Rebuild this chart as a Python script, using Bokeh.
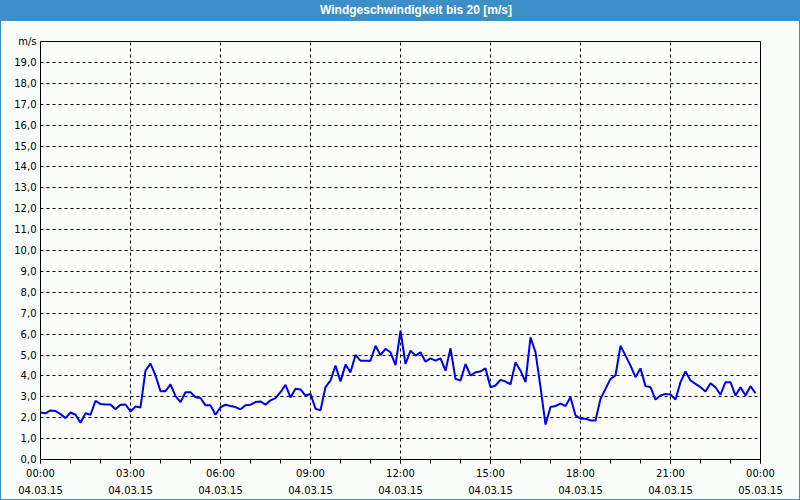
from bokeh.plotting import figure
from bokeh.models import Range1d, FixedTicker, Div
from bokeh.layouts import column
from bokeh.embed import file_html
from bokeh.resources import INLINE

title_text = "Windgeschwindigkeit bis 20 [m/s]"
x_tick_hours = [0, 3, 6, 9, 12, 15, 18, 21, 24]
x_tick_labels = ["00:00\n04.03.15", "03:00\n04.03.15", "06:00\n04.03.15", "09:00\n04.03.15",
                 "12:00\n04.03.15", "15:00\n04.03.15", "18:00\n04.03.15", "21:00\n04.03.15",
                 "00:00\n05.03.15"]
y_ticks = list(range(0, 21))
y_unit = "m/s"

wind_speed = [
    2.25, 2.21, 2.35, 2.32, 2.17, 1.98, 2.25, 2.14, 1.76, 2.21, 2.14, 2.81,
    2.65, 2.63, 2.63, 2.40, 2.62, 2.63, 2.30, 2.54, 2.49, 4.25, 4.59, 4.02,
    3.27, 3.27, 3.59, 3.03, 2.75, 3.22, 3.22, 2.98, 2.94, 2.59, 2.59, 2.14,
    2.50, 2.62, 2.56, 2.51, 2.40, 2.60, 2.62, 2.75, 2.78, 2.62, 2.83, 2.94,
    3.22, 3.57, 2.97, 3.38, 3.35, 3.06, 3.14, 2.43, 2.35, 3.46, 3.78, 4.49,
    3.73, 4.54, 4.17, 5.00, 4.73, 4.73, 4.73, 5.44, 5.00, 5.29, 5.13, 4.52,
    6.16, 4.57, 5.21, 4.97, 5.13, 4.68, 4.84, 4.73, 4.84, 4.25, 5.32, 3.86,
    3.78, 4.57, 4.02, 4.17, 4.21, 4.36, 3.46, 3.54, 3.81, 3.73, 3.60, 4.65,
    4.25, 3.70, 5.84, 5.13, 3.46, 1.67, 2.51, 2.56, 2.67, 2.56, 2.98, 2.11,
    1.95, 1.95, 1.87, 1.87, 2.90, 3.38, 3.86, 4.02, 5.44, 4.97, 4.49, 3.94,
    4.36, 3.51, 3.46, 2.87, 3.06, 3.14, 3.11, 2.87, 3.70, 4.21, 3.78, 3.62,
    3.46, 3.25, 3.65, 3.46, 3.10, 3.70, 3.70, 3.06, 3.46, 3.06, 3.51, 3.17,
]
# measurement every 10 minutes starting 04.03.15 00:00
hours = [i * 10 / 60 for i in range(len(wind_speed))]

BLUE = "#3c8fc6"
BG = "#fbfdfb"
FONT = "DejaVu Sans"

title_div = Div(
    text=f'<div style="width:798px;height:21px;line-height:20px;box-sizing:border-box;'
         f'padding-left:32px;text-align:center;background:{BLUE};color:white;'
         f'font-family:\'Liberation Sans\';font-weight:bold;font-size:12px;">{title_text}</div>',
    width=798, height=21, margin=(0, 0, 0, 0),
)

p = figure(width=798, height=478, output_backend="svg", toolbar_location=None,
           x_range=Range1d(0, 24), y_range=Range1d(0, 20),
           min_border_left=39, min_border_right=39, min_border_top=20, min_border_bottom=38,
           background_fill_color=BG, border_fill_color=BG, margin=(0, 0, 0, 0))
p.outline_line_color = "black"
p.outline_line_width = 1

p.line(hours, wind_speed, line_color="#0000e6", line_width=2)

xa = p.xaxis[0]
xa.ticker = FixedTicker(ticks=x_tick_hours, minor_ticks=list(range(0, 25)))
xa.major_label_overrides = {h: l for h, l in zip(x_tick_hours, x_tick_labels)}
xa.major_tick_in = 0
xa.major_tick_out = 4
xa.minor_tick_in = 0
xa.minor_tick_out = 4
xa.axis_line_color = "black"
xa.major_tick_line_color = "black"
xa.minor_tick_line_color = "black"
xa.major_label_text_font = FONT
xa.major_label_text_font_size = "10px"
xa.major_label_text_color = "black"
xa.major_label_text_line_height = 1.6
xa.major_label_standoff = 4

ya = p.yaxis[0]
ya.ticker = FixedTicker(ticks=y_ticks)
ya.major_label_overrides = {v: (y_unit if v == 20 else f"{v},0") for v in y_ticks}
ya.major_tick_in = 0
ya.major_tick_out = 0
ya.minor_tick_line_color = None
ya.axis_line_color = "black"
ya.major_label_text_font = FONT
ya.major_label_text_font_size = "10px"
ya.major_label_text_color = "black"
ya.major_label_standoff = 4

for g in (p.xgrid[0], p.ygrid[0]):
    g.grid_line_color = "black"
    g.grid_line_dash = "3 3"
    g.grid_line_width = 1

layout = column(title_div, p, spacing=0,
                styles={"border": f"1px solid {BLUE}", "border-top": "0px",
                        "background-color": BG})

open("out.html", "w").write(file_html(layout, INLINE))
